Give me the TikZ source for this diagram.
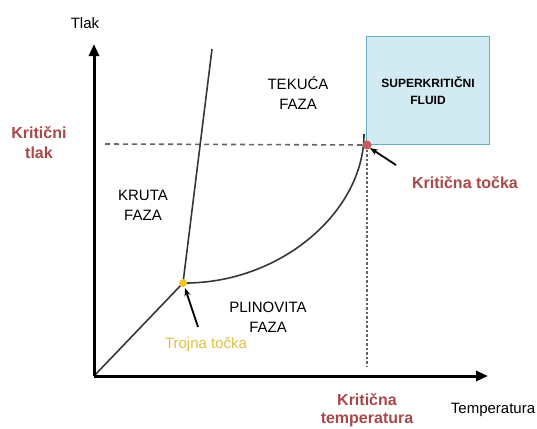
\documentclass[tikz,border=0pt]{standalone}
\usepackage{fontspec}
\setmainfont{Liberation Sans}
\usetikzlibrary{arrows.meta}
\definecolor{kritred}{RGB}{168,72,72}
\definecolor{trojyel}{RGB}{228,190,70}
\definecolor{dotyel}{RGB}{244,196,40}
\definecolor{dotred}{RGB}{200,92,92}
\definecolor{boxfill}{RGB}{210,235,243}
\definecolor{boxedge}{RGB}{100,175,195}
\definecolor{guide}{RGB}{100,100,100}
\definecolor{phase}{RGB}{55,55,55}
\tikzset{
  lbl/.style={font=\fontsize{15}{20}\selectfont, align=center, inner sep=0pt, text=black},
  redlbl/.style={font=\fontsize{16}{20}\selectfont\bfseries, align=center, inner sep=0pt, text=kritred},
  axisline/.style={line width=3pt, -{Triangle[length=12pt,width=10pt]}},
  phaseline/.style={line width=1.6pt, draw=phase},
  pointer/.style={line width=1.8pt, -{Stealth[length=8pt,width=6pt]}},
  guideline/.style={line width=1.6pt, draw=guide},
}
\begin{document}
\begin{tikzpicture}[x=1pt,y=-1pt]
\useasboundingbox (0,0) rectangle (537,428);
% supercritical box
\node[draw=boxedge, fill=boxfill, line width=1.3pt, minimum width=123pt, minimum height=108pt, anchor=south west, inner sep=0pt] (box) at (366,145) {};
\node[font=\fontsize{12}{17}\selectfont\bfseries, align=center, inner sep=0pt] (scf) at (428,91) {SUPERKRITIČNI\\FLUID};
% coordinates
\coordinate (O) at (94,376);
\coordinate (ytip) at (94,44);
\coordinate (xtip) at (488,376);
\coordinate (tp) at (183,283);
\coordinate (cp) at (367,145);
\coordinate (fusTop) at (212,49);
\coordinate (vapEnd) at (364,134);
\coordinate (dashL) at (105,144);
\coordinate (dotB) at (367,366);
% guides
\draw[guideline, dash pattern=on 5pt off 4pt] (dashL) -- (cp);
\draw[guideline, dash pattern=on 2.5pt off 2pt] (cp) -- (dotB);
% phase lines
\draw[phaseline] (O) -- (tp);
\draw[phaseline] (tp) -- (fusTop);
\draw[phaseline] (tp) .. controls (280,284) and (364,212) .. (vapEnd);
% axes
\draw[axisline] (O) -- (ytip);
\draw[axisline] (O) -- (xtip);
% points
\fill[dotyel] (tp) circle (4pt);
\fill[dotred] (cp) circle (4.5pt);
% labels
\node[lbl] (tlak) at (85,23) {Tlak};
\node[lbl] (temp) at (493,410) {Temperatura};
\node[redlbl] (ktlak) at (39,143) {Kritični\\tlak};
\node[font=\fontsize{16}{18}\selectfont\bfseries, align=center, inner sep=0pt, text=kritred] (ktemp) at (367,410) {Kritična\\temperatura};
\node[redlbl] (ktocka) at (465,183) {Kritična točka};
\node[lbl] (kruta) at (143,205) {KRUTA\\FAZA};
\node[lbl] (tekuca) at (298,93) {TEKUĆA\\FAZA};
\node[lbl] (plin) at (268,317) {PLINOVITA\\FAZA};
\node[font=\fontsize{15}{20}\selectfont, text=trojyel, inner sep=0pt] (trojna) at (206,345) {Trojna točka};
% pointers
\coordinate (tpArrowTail) at (198,327);
\coordinate (tpArrowHead) at (185,288);
\coordinate (cpArrowTail) at (396,165);
\coordinate (cpArrowHead) at (370,148);
\draw[pointer] (tpArrowTail) -- (tpArrowHead);
\draw[pointer] (cpArrowTail) -- (cpArrowHead);
\end{tikzpicture}
\end{document}
